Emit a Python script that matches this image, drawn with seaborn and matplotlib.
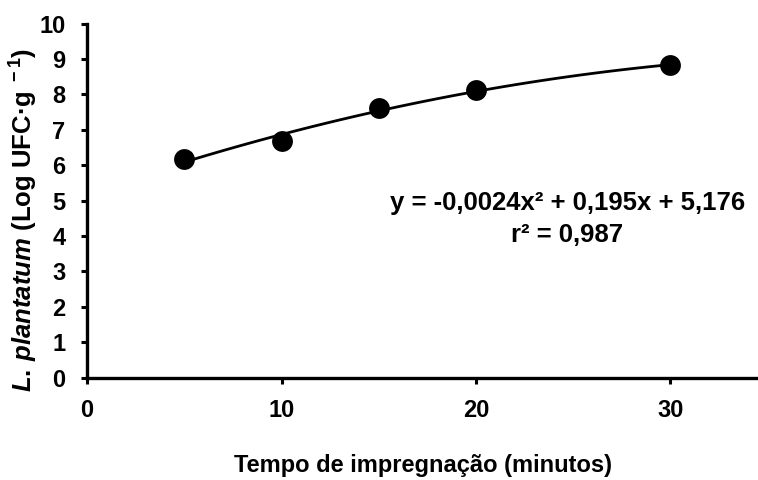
import numpy as np
import pandas as pd
import seaborn as sns
import matplotlib.pyplot as plt

# tempo de impregnacao (min) e contagem de L. plantatum (Log UFC/g)
tempo = [5, 10, 15, 20, 30]
contagem = [6.17, 6.68, 7.62, 8.12, 8.82]
x_ticks = [0, 10, 20, 30]
y_ticks = list(range(0, 11))
equacao = "y = -0,0024x\u00b2 + 0,195x + 5,176"
r2_text = "r\u00b2 = 0,987"

df = pd.DataFrame({"tempo": tempo, "contagem": contagem})

sns.set_style("ticks")
plt.rcParams["font.family"] = ["Liberation Sans", "DejaVu Sans"]
plt.rcParams["font.weight"] = "bold"
plt.rcParams["text.color"] = "black"
plt.rcParams["axes.labelcolor"] = "black"
plt.rcParams["xtick.color"] = "black"
plt.rcParams["ytick.color"] = "black"
plt.rcParams["mathtext.fontset"] = "custom"
plt.rcParams["mathtext.rm"] = "Liberation Sans:bold"
plt.rcParams["mathtext.it"] = "Liberation Sans:italic:bold"
plt.rcParams["mathtext.bf"] = "Liberation Sans:bold"

fig = plt.figure(figsize=(7.58, 4.8), dpi=100)
ax = fig.add_axes([0.1148, 0.213, 0.8852, 0.738])

sns.regplot(
    data=df,
    x="tempo",
    y="contagem",
    order=2,
    ci=None,
    color="black",
    scatter_kws={"s": 225, "alpha": 1, "zorder": 3, "linewidths": 0},
    line_kws={"lw": 2.0},
    ax=ax
)

ax.set_xlim(0, 34.5)
ax.set_ylim(0, 10)
ax.set_xticks(x_ticks)
ax.set_yticks(y_ticks)

ax.tick_params(axis="both", direction="out", length=4.5, width=2.2,
               labelsize=17, pad=11, colors="black")
for lbl in ax.get_xticklabels() + ax.get_yticklabels():
    lbl.set_fontweight("bold")

for side in ["left", "bottom"]:
    ax.spines[side].set_linewidth(2.4)
    ax.spines[side].set_color("black")
sns.despine(ax=ax)

ax.set_xlabel("Tempo de impregnação (minutos)", fontsize=17,
              fontweight="bold", labelpad=23)
ax.set_ylabel(r"$\mathit{L.}\,\mathit{plantatum}$ (Log UFC·g$^{\ -1}$)",
              fontsize=18.5, fontweight="bold", va="center")
ax.yaxis.set_label_coords(-0.094, 0.445)

ax.text(24.7, 4.93, equacao, ha="center", va="center",
        fontsize=18.5, fontweight="bold")
ax.text(24.7, 4.03, r2_text, ha="center", va="center",
        fontsize=18.5, fontweight="bold")

fig.savefig("out.png", dpi=100)
